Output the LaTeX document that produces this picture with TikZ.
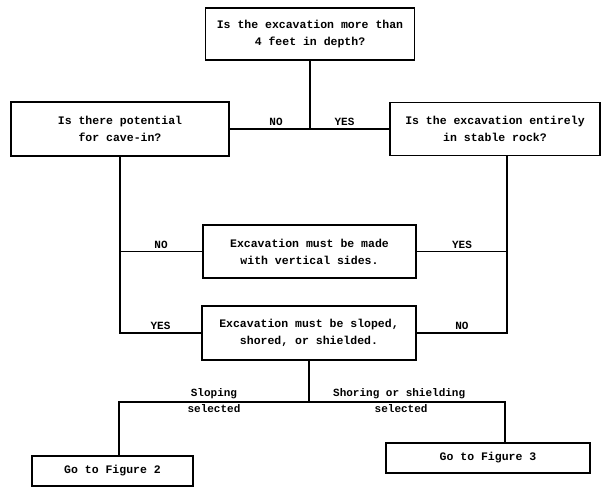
\documentclass[tikz,border=0pt]{standalone}
\usepackage{fontspec}
\setmonofont{Liberation Mono}
\usepackage{tikz}
\tikzset{
  qbox/.style={draw=black,line width=1.8pt,align=center,inner sep=2pt,
    font=\ttfamily\bfseries\fontsize{11.5}{17}\selectfont},
  flowline/.style={line width=1.8pt,black},
  anslbl/.style={inner sep=2pt,font=\ttfamily\bfseries\fontsize{11}{13}\selectfont},
}

\begin{document}
\begin{tikzpicture}[x=1pt,y=-1pt]
  \useasboundingbox (0,0) rectangle (606,488);
  \node[qbox,minimum width=209pt,minimum height=52pt] (qDepth) at (310,34) {Is the excavation more than\\4 feet in depth?};
  \node[qbox,minimum width=218pt,minimum height=54pt] (qCave) at (120,129) {Is there potential\\for cave-in?};
  \node[qbox,minimum width=210pt,minimum height=53pt] (qRock) at (495,129) {Is the excavation entirely\\in stable rock?};
  \node[qbox,minimum width=213pt,minimum height=53pt] (aVert) at (309.5,251.5) {Excavation must be made\\with vertical sides.};
  \node[qbox,minimum width=214pt,minimum height=54pt] (aSlope) at (309,333) {Excavation must be sloped,\\shored, or shielded.};
  \node[qbox,minimum width=161pt,minimum height=30pt] (gFig2) at (112.5,471) {Go to Figure 2};
  \node[qbox,minimum width=204pt,minimum height=30pt] (gFig3) at (488,458) {Go to Figure 3};
  \coordinate (rDrop) at (507,154);
  \coordinate (bLeft) at (119,402);
  \coordinate (bRight) at (505,402);
  % first question splits to both sides
  \draw[flowline] (qDepth.south) -- (qDepth.south |- qCave.east);
  \draw[flowline] (qCave.east) -- node[anslbl,above,pos=0.29]{NO} node[anslbl,above,pos=0.72]{YES} (qCave.east -| qRock.west);
  % left branch
  \draw[flowline] (qCave.south) -- (qCave.south |- aSlope.west) -- node[anslbl,above]{YES} (aSlope.west);
  \draw[flowline] (aVert.west) -- node[anslbl,above]{NO} (qCave.south |- aVert.west);
  % right branch
  \draw[flowline] (qRock.south -| rDrop) -- (rDrop |- aSlope.east) -- node[anslbl,above]{NO} (aSlope.east);
  \draw[flowline] (aVert.east) -- node[anslbl,above]{YES} (rDrop |- aVert.east);
  % protective system choice
  \draw[flowline] (aSlope.south) -- (aSlope.south |- bLeft);
  \draw[flowline] (gFig2.north -| bLeft) -- (bLeft)
    -- node[anslbl,above,pos=0.5]{Sloping} node[anslbl,below,pos=0.5]{selected} (aSlope.south |- bLeft)
    -- node[anslbl,above,pos=0.46]{Shoring or shielding} node[anslbl,below,pos=0.47]{selected} (bRight)
    -- (gFig3.north -| bRight);
\end{tikzpicture}
\end{document}
